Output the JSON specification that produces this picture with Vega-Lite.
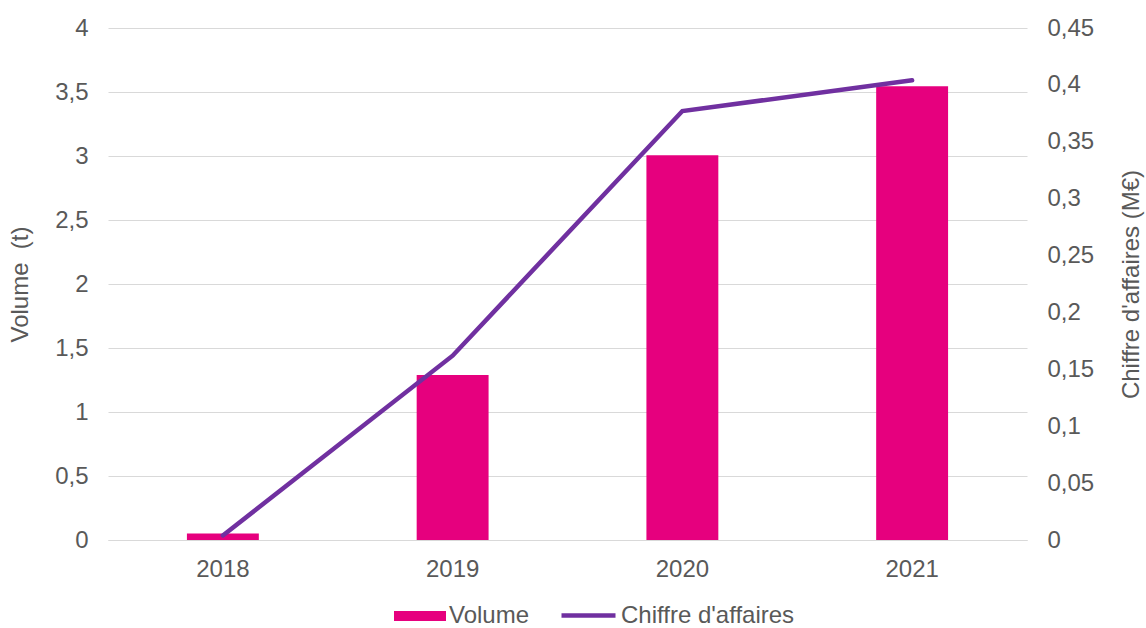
{
  "$schema": "https://vega.github.io/schema/vega-lite/v6.json",
  "width": 919,
  "height": 512,
  "autosize": {"type": "none"},
  "padding": {"left": 108, "top": 28, "right": 119, "bottom": 88},
  "background": "white",
  "config": {
    "font": "Liberation Sans",
    "view": {"stroke": null},
    "axis": {"labelFont": "Liberation Sans", "titleFont": "Liberation Sans", "labelFontSize": 24, "titleFontSize": 24, "labelColor": "#595959", "titleColor": "#595959", "titleFontWeight": "normal", "ticks": false, "domain": false},
    "legend": {"labelFont": "Liberation Sans", "labelFontSize": 24, "labelColor": "#595959", "padding": 0, "labelLimit": 500}
  },
  "data": {
    "values": [
      {"annee": "2018", "volume": 0.05, "ca": 0.004},
      {"annee": "2019", "volume": 1.29, "ca": 0.162},
      {"annee": "2020", "volume": 3.005, "ca": 0.377},
      {"annee": "2021", "volume": 3.545, "ca": 0.404}
    ]
  },
  "encoding": {
    "x": {
      "field": "annee", "type": "nominal", "title": null,
      "scale": {"paddingInner": 0.687, "paddingOuter": 0.3435},
      "axis": {"labelAngle": 0, "labelPadding": 17, "domain": true, "domainColor": "#d9d9d9", "domainWidth": 1, "grid": false}
    }
  },
  "layer": [
    {
      "mark": {"type": "bar"},
      "encoding": {
        "y": {
          "field": "volume", "type": "quantitative", "title": "Volume\u00a0 (t)",
          "scale": {"domain": [0, 4], "nice": false},
          "axis": {"values": [0, 0.5, 1, 1.5, 2, 2.5, 3, 3.5, 4], "labelExpr": "replace(format(datum.value, '~g'), '.', ',')", "grid": true, "gridColor": "#d9d9d9", "gridWidth": 1, "labelPadding": 20, "titlePadding": 22}
        },
        "fill": {
          "datum": "Volume", "type": "nominal",
          "scale": {"domain": ["Volume"], "range": ["#e6007e"]},
          "legend": {"title": null, "orient": "none", "legendX": 286, "legendY": 562, "direction": "horizontal", "symbolType": "M-1,-0.19H1V0.19H-1Z", "symbolSize": 2704, "symbolStrokeWidth": 0, "labelOffset": 3}
        }
      }
    },
    {
      "mark": {"type": "line", "strokeWidth": 4.5, "strokeCap": "round"},
      "encoding": {
        "y": {
          "field": "ca", "type": "quantitative", "title": "Chiffre d'affaires (M€)",
          "scale": {"domain": [0, 0.45], "nice": false},
          "axis": {"orient": "right", "values": [0, 0.05, 0.1, 0.15, 0.2, 0.25, 0.3, 0.35, 0.4, 0.45], "labelExpr": "replace(format(datum.value, '~g'), '.', ',')", "grid": false, "labelPadding": 20, "titlePadding": 50, "titleAngle": 270}
        },
        "stroke": {
          "datum": "Chiffre d'affaires", "type": "nominal",
          "scale": {"domain": ["Chiffre d'affaires"], "range": ["#7030a0"]},
          "legend": {"title": null, "orient": "none", "legendX": 451, "legendY": 558, "direction": "horizontal", "symbolType": "stroke", "symbolSize": 2916, "symbolStrokeWidth": 4.5, "labelOffset": 3}
        }
      }
    }
  ],
  "resolve": {"scale": {"y": "independent"}}
}
